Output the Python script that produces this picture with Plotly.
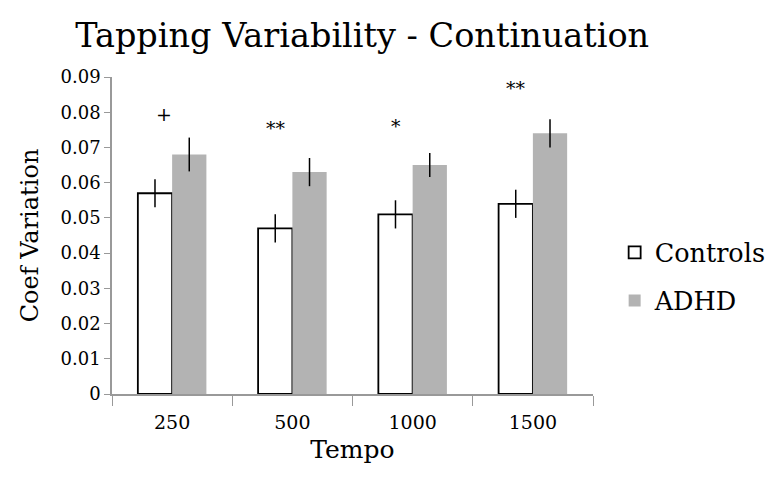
import plotly.graph_objects as go

# data
tempos = ["250", "500", "1000", "1500"]
controls = [0.057, 0.047, 0.051, 0.054]
controls_err = [0.004, 0.004, 0.004, 0.004]
adhd = [0.068, 0.063, 0.065, 0.074]
adhd_err = [0.0048, 0.004, 0.0034, 0.004]
sig_marks = ["+", "**", "*", "**"]
sig_y = [0.0795, 0.0756, 0.0760, 0.0868]

serif = "DejaVu Serif"

fig = go.Figure()
fig.add_trace(go.Bar(
    x=tempos, y=controls, name="Controls", legendgroup="c",
    marker=dict(color="white", line=dict(color="black", width=1.8)),
    error_y=dict(type="data", array=controls_err, color="black", thickness=1.5, width=0),
))
fig.add_trace(go.Bar(
    x=tempos, y=adhd, name="ADHD", legendgroup="a",
    marker=dict(color="#b3b3b3", line=dict(color="#b3b3b3", width=0)),
    error_y=dict(type="data", array=adhd_err, color="black", thickness=1.5, width=0),
))

# significance marks, placed by category index (numeric-looking category
# strings would otherwise be read as numbers by the annotation)
shifts = [-8, -16, -17, -17]
for i, (m, y, s) in enumerate(zip(sig_marks, sig_y, shifts)):
    fig.add_annotation(x=i, y=y, text=m, showarrow=False, xshift=s,
                       font=dict(family=serif, size=19, color="black"))

# page body has an 8px margin, so margins are offset by that
fig.update_layout(
    width=775, height=485,
    margin=dict(l=104, r=184, t=69, b=99),
    paper_bgcolor="white", plot_bgcolor="white",
    font=dict(family=serif, color="black"),
    title=dict(text="Tapping Variability - Continuation", x=0.457, xanchor="center",
               y=0.944, yanchor="middle", font=dict(size=33.5, family=serif),
               automargin=False),
    barmode="group", bargap=0.43, bargroupgap=0,
    legend=dict(x=1.045, y=0.37, xanchor="left", yanchor="middle",
                font=dict(size=25.5, family=serif), tracegroupgap=12,
                itemwidth=30),
    showlegend=True,
)
fig.update_xaxes(
    type="category", range=[-0.5, len(tempos) - 0.5], automargin=False,
    showline=True, linecolor="#999999", linewidth=1.5,
    ticks="outside", tickson="boundaries", ticklen=10, tickcolor="#999999",
    tickfont=dict(size=19), showgrid=False, ticklabelstandoff=10,
    title=dict(text="Tempo", font=dict(size=25), standoff=9),
)
fig.update_yaxes(
    range=[0, 0.09], dtick=0.01, tickformat="~g", automargin=False,
    showline=True, linecolor="#999999", linewidth=1.5,
    ticks="outside", ticklen=6, tickcolor="#999999",
    tickfont=dict(size=18), showgrid=False, zeroline=False,
    title=dict(text="Coef Variation", font=dict(size=24), standoff=15),
)

fig.write_html("out.html")
